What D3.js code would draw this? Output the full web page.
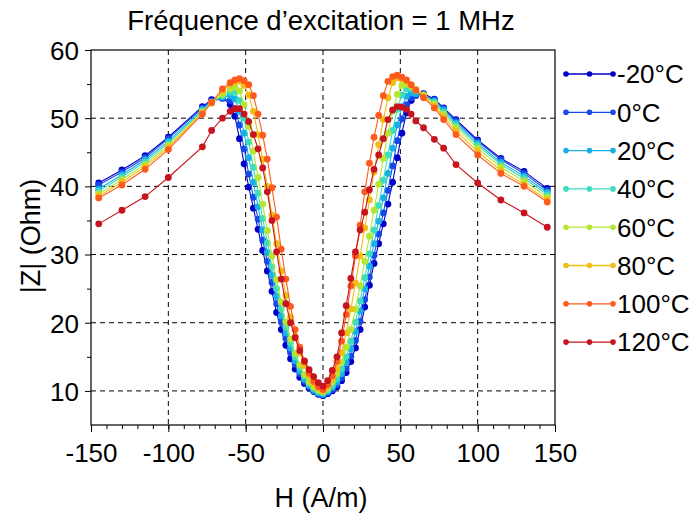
<!DOCTYPE html>
<html><head><meta charset="utf-8">
<script src="https://cdn.jsdelivr.net/npm/d3@7"></script>
<style>
body{margin:0;background:#fff}
svg{display:block}
text{font-family:"Liberation Sans",Arial,Helvetica,sans-serif;fill:#000}
</style>
</head><body>
<svg id="chart" width="700" height="516"></svg>
<script>
// ---------- data ----------
const H = [-145,-130,-115,-100,-78,-72,-65,
  -60,-57,-54,-51,-48,-45,-42,-39,-36,-33,-30,-27,-24,-21,-18,-15,-12,-9,-6,-3,
  0,
  3,6,9,12,15,18,21,24,27,30,33,36,39,42,45,48,51,54,57,60,
  65,72,78,86,100,115,130,145];

const seriesNames = ["-20°C","0°C","20°C","40°C","60°C","80°C","100°C","120°C"];
const seriesColors = ["#0000c8","#1848e8","#18aee8","#3cdcbe","#b4e632","#f0be14","#ff5a1e","#c8141e"];

const zM20 = [40.5,42.4,44.5,47.2,51.7,52.7,53.0,
  52.0,50.3,47.0,43.3,39.9,36.8,33.7,30.6,27.6,24.6,21.5,19.0,16.7,14.7,13.2,12.0,11.1,10.4,9.9,9.5,
  9.3,
  9.6,10.0,10.6,11.5,12.7,14.3,16.3,19.0,22.3,25.5,28.7,31.6,34.5,37.4,40.6,44.2,47.8,50.8,52.6,53.4,
  53.6,52.8,51.5,49.8,46.8,44.1,42.2,39.7];
const z0 = [40.2,42.1,44.2,47.0,51.5,52.5,52.9,
  52.6,51.4,49.0,45.5,41.8,38.4,35.2,32.1,29.0,25.9,22.8,20.1,17.7,15.6,13.9,12.5,11.4,10.6,10.0,9.6,
  9.4,
  9.7,10.2,10.9,11.9,13.3,15.1,17.4,20.2,23.4,26.7,29.9,33.0,36.1,39.4,43.0,46.7,49.9,52.0,53.0,53.3,
  53.3,52.7,51.4,49.6,46.6,43.9,41.9,39.4];
const z20 = [39.6,41.7,43.9,46.6,51.3,52.4,53.1,
  53.3,52.8,51.0,47.8,44.2,40.6,37.0,33.6,30.3,27.0,23.9,21.0,18.5,16.3,14.4,12.9,11.7,10.8,10.1,9.7,
  9.5,
  9.9,10.5,11.3,12.5,14.1,16.2,18.7,21.7,25.0,28.3,31.6,34.9,38.3,41.9,45.6,49.0,51.7,53.2,53.7,53.6,
  53.2,52.5,51.2,49.3,46.3,43.5,41.5,39.1];
const z40 = [39.3,41.4,43.6,46.3,51.1,52.3,53.3,
  53.8,53.8,52.6,50.0,46.5,42.8,39.0,35.3,31.7,28.2,25.0,22.0,19.3,17.0,15.0,13.4,12.1,11.1,10.4,9.9,
  9.7,
  10.1,10.8,11.8,13.2,15.0,17.3,20.1,23.2,26.6,30.1,33.6,37.2,40.9,44.6,48.2,51.3,53.4,54.3,54.3,54.0,
  53.4,52.3,50.9,49.0,46.0,43.2,41.2,38.8];
const z60 = [38.9,41.0,43.2,46.0,50.9,52.2,53.5,
  54.3,54.6,54.0,52.0,48.8,45.2,41.3,37.4,33.5,29.8,26.3,23.0,20.1,17.6,15.5,13.8,12.4,11.3,10.6,10.1,
  9.9,
  10.4,11.3,12.5,14.2,16.4,19.0,22.0,25.4,29.0,32.7,36.5,40.3,44.1,47.8,51.0,53.5,54.8,55.0,54.7,54.2,
  53.4,52.1,50.6,48.6,45.6,42.8,40.8,38.4];
const z80 = [38.6,40.6,42.9,45.7,50.8,52.3,54.0,
  55.0,55.4,55.4,54.8,53.4,51.0,47.6,44.0,40.0,35.8,31.6,27.6,24.0,20.8,18.0,15.6,13.7,12.2,11.1,10.4,
  10.0,
  10.6,11.7,13.3,15.6,18.5,22.0,25.8,29.8,33.9,38.0,42.1,46.1,49.8,53.0,55.2,55.9,55.8,55.4,54.8,54.2,
  53.2,51.8,50.2,48.1,45.1,42.3,40.3,38.0];
const z100 = [38.3,40.2,42.5,45.4,50.6,52.3,54.3,
  55.2,55.6,55.8,55.5,54.9,53.3,50.6,47.5,44.0,39.8,35.5,30.8,26.4,22.4,19.0,16.4,14.3,12.6,11.4,10.6,
  10.2,
  10.9,12.2,14.3,17.3,21.2,25.4,29.8,34.3,39.2,43.4,47.2,50.4,53.3,55.4,56.1,56.3,56.0,55.6,54.9,54.1,
  53.0,51.5,49.8,47.6,44.6,41.9,40.0,37.7];
const z120 = [34.5,36.5,38.5,41.3,45.8,48.2,50.0,
  51.0,51.4,51.4,50.6,49.5,47.6,45.5,42.7,39.2,35.0,30.4,26.4,22.8,20.0,17.8,15.9,14.4,13.1,12.1,11.2,
  10.7,
  11.5,13.0,15.0,18.5,22.5,26.5,30.4,33.6,36.2,39.5,42.5,44.6,47.0,49.8,51.2,51.7,51.6,51.3,50.6,49.6,
  48.6,46.9,45.6,43.2,40.5,38.0,36.1,34.0];

const seriesValues = [zM20, z0, z20, z40, z60, z80, z100, z120];

const xTicks = [-150,-100,-50,0,50,100,150];
const xMinor = d3.range(-150,151,10);
const xGrid = [-100,-50,0,50,100];
const yTicks = [10,20,30,40,50,60];
const yMinor = [15,25,35,45,55];
const yGrid = [10,20,30,40,50];

const titleText = "Fréquence d’excitation = 1 MHz";
const xLabel = "H (A/m)";
const yLabel = "|Z| (Ohm)";

// ---------- layout ----------
const L = 91, R = 555, T = 50, B = 425;
const svg = d3.select("#chart");
const x = d3.scaleLinear().domain([-150,150]).range([L,R]);
const y = d3.scaleLinear().domain([5,60]).range([B,T]);

// grid
const grid = svg.append("g");
grid.selectAll("line.gx").data(xGrid).join("line")
  .attr("x1",d=>x(d)).attr("x2",d=>x(d)).attr("y1",T).attr("y2",B)
  .attr("stroke","#000").attr("stroke-width",1).attr("stroke-dasharray","5,4");
grid.selectAll("line.gy").data(yGrid).join("line")
  .attr("x1",L).attr("x2",R).attr("y1",d=>y(d)).attr("y2",d=>y(d))
  .attr("stroke","#000").attr("stroke-width",1).attr("stroke-dasharray","5,4");

// series
const lineGen = d3.line().x((d,i)=>x(H[i])).y(d=>y(d));
seriesValues.forEach((vals,k)=>{
  const g = svg.append("g");
  g.append("path").datum(vals).attr("d",lineGen)
    .attr("fill","none").attr("stroke",seriesColors[k]).attr("stroke-width",1.1);
  g.selectAll("circle").data(vals).join("circle")
    .attr("cx",(d,i)=>x(H[i])).attr("cy",d=>y(d)).attr("r",3.4)
    .attr("fill",seriesColors[k]);
});

// frame
svg.append("rect").attr("x",L).attr("y",T).attr("width",R-L).attr("height",B-T)
  .attr("fill","none").attr("stroke","#000").attr("stroke-width",1.2);

// axes
const fmt = d => String(d);
const xAxis = svg.append("g").attr("transform",`translate(0,${B})`)
  .call(d3.axisBottom(x).tickValues(xTicks).tickSize(7).tickPadding(5).tickFormat(fmt));
const xAxisMinor = svg.append("g").attr("transform",`translate(0,${B})`)
  .call(d3.axisBottom(x).tickValues(xMinor).tickSize(4).tickFormat(""));
const yAxis = svg.append("g").attr("transform",`translate(${L},0)`)
  .call(d3.axisLeft(y).tickValues(yTicks).tickSize(6).tickPadding(6).tickFormat(fmt));
const yAxisMinor = svg.append("g").attr("transform",`translate(${L},0)`)
  .call(d3.axisLeft(y).tickValues(yMinor).tickSize(4).tickFormat(""));
[xAxis,xAxisMinor,yAxis,yAxisMinor].forEach(a=>{
  a.select(".domain").remove();
  a.selectAll("line").attr("stroke","#000");
  a.selectAll("text").style("font-size","26px").attr("font-family",null);
});
xAxis.selectAll("text").attr("dy","0.95em");
yAxis.selectAll("text").attr("dy","0.36em");

// titles
svg.append("text").attr("x",321).attr("y",30).attr("text-anchor","middle")
  .style("font-size","27.5px").text(titleText);
svg.append("text").attr("x",321).attr("y",507).attr("text-anchor","middle")
  .style("font-size","27px").text(xLabel);
svg.append("text").attr("transform","translate(40,236) rotate(-90)").attr("text-anchor","middle")
  .style("font-size","27px").text(yLabel);

// legend
const legend = svg.append("g");
seriesNames.forEach((name,k)=>{
  const ly = 74 + k*38.3;
  const g = legend.append("g").attr("transform",`translate(0,${ly})`);
  g.append("line").attr("x1",566).attr("x2",613).attr("y1",0).attr("y2",0)
    .attr("stroke",seriesColors[k]).attr("stroke-width",1.3);
  [566,589.5,613].forEach(cx=>g.append("circle").attr("cx",cx).attr("cy",0).attr("r",2.8).attr("fill",seriesColors[k]));
  g.append("text").attr("x",617).attr("y",0).attr("dy","0.36em")
    .style("font-size","26px").text(name);
});
</script>
</body></html>
